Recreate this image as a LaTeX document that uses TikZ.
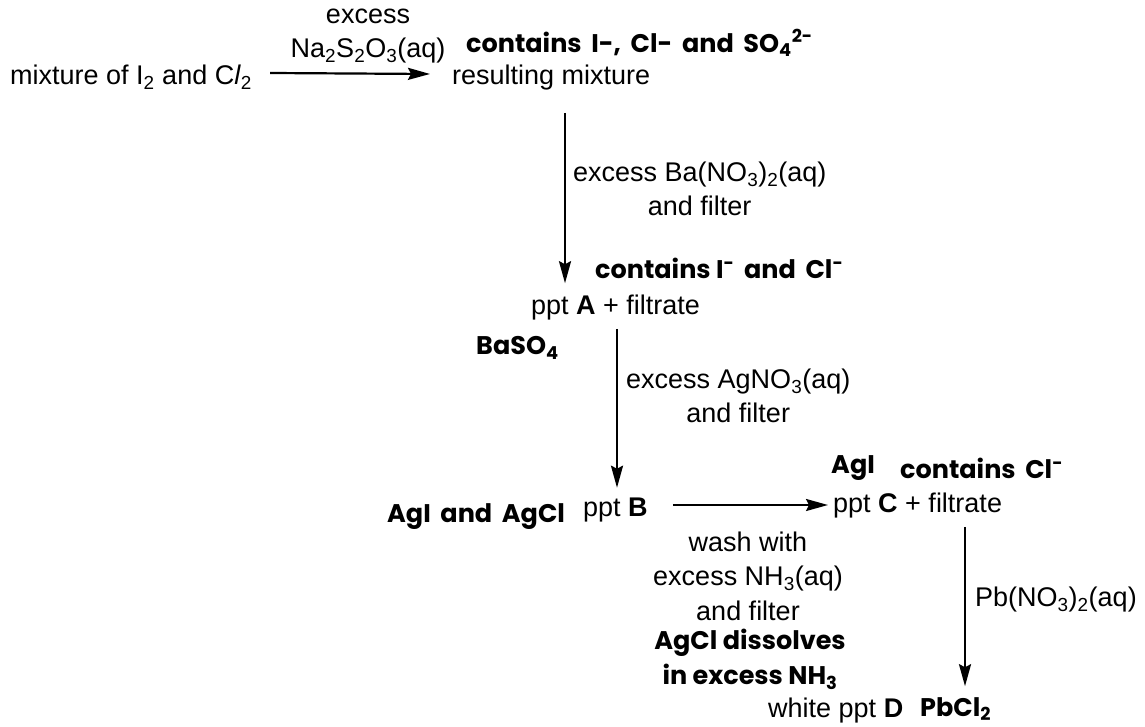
\documentclass[tikz,border=0pt]{standalone}
\usepackage{fontspec}
\setmainfont{Liberation Sans}
\newfontfamily\comic{Poppins}
\usetikzlibrary{arrows.meta,calc}
\begin{document}
\begin{tikzpicture}[x=1pt,y=-1pt,
  every node/.style={inner sep=0pt,font=\fontsize{27}{34.5}\selectfont},
  chemtxt/.style={font=\fontsize{25.5}{35}\selectfont\comic\bfseries},
  arr/.style={line width=2.2pt,-{Stealth[length=22pt,width=12pt,inset=3pt]}}]
\useasboundingbox (0,0) rectangle (1145,727);
\fill[white] (0,0) rectangle (1145,727);
% top row
\node[anchor=west] (mix) at (10,77) {mixture of I\textsubscript{2} and C\textit{l}\textsubscript{2}};
\node[align=center] (r1) at (368,36) {excess\\Na\textsubscript{2}S\textsubscript{2}O\textsubscript{3}(aq)};
\node[anchor=west] (res) at (452,78) {resulting mixture};
\node[chemtxt,anchor=west] (c1) at (466,43) {contains\, I-,\, Cl-\, and\, SO\textsubscript{4}\textsuperscript{2-}};
\draw[arr] ($(mix.east)+(18,-4)$) -- ($(res.west)+(-22,-4)$);
% second step
\node[anchor=west] (pA) at (531,308) {ppt \textbf{A} + filtrate};
\node[chemtxt,anchor=west] (c2) at (595,268) {contains I\textsuperscript{-}\, and\, Cl\textsuperscript{-}};
\node[chemtxt,anchor=west] (ba) at (476,348) {BaSO\textsubscript{4}};
\node[align=center,anchor=west] (r2) at (573,189) {excess Ba(NO\textsubscript{3})\textsubscript{2}(aq)\\and filter};
\draw[arr] ($(r2.west |- res.south)+(-8,22)$) -- ($(r2.west |- pA.north)+(-8,-12)$);
% third step
\node[anchor=west] (pB) at (583,510) {ppt \textbf{B}};
\node[chemtxt,anchor=west] (agb) at (387,517) {AgI\, and\, AgCl};
\node[align=center,anchor=west] (r3) at (626,396) {excess AgNO\textsubscript{3}(aq)\\and filter};
\draw[arr] ($(r3.west |- pA.south)+(-9,8)$) -- ($(r3.west |- pB.north)+(-9,-10)$);
% fourth step
\node[anchor=west] (pC) at (833,506) {ppt \textbf{C} + filtrate};
\node[chemtxt,anchor=west] (agi) at (831,468) {AgI};
\node[chemtxt,anchor=west] (c3) at (900,468) {contains\, Cl\textsuperscript{-}};
\node[align=center] (r4) at (748,576) {wash with\\excess NH\textsubscript{3}(aq)\\and filter};
\node[chemtxt,align=center] (r4b) at (750,659) {AgCl dissolves\\in excess NH\textsubscript{3}};
\draw[arr] ($(pB.east)+(25,-5)$) -- ($(pC.west)+(-5,-1)$);
% fifth step
\node[anchor=west] (pD) at (768,711) {white ppt \textbf{D}};
\node[chemtxt,anchor=west] (pb) at (920,709) {PbCl\textsubscript{2}};
\node[anchor=west] (r5) at (975,600) {Pb(NO\textsubscript{3})\textsubscript{2}(aq)};
\draw[arr] ($(r5.west |- pC.south)+(-10,8)$) -- ($(r5.west |- pD.north)+(-10,-12)$);
\end{tikzpicture}
\end{document}
